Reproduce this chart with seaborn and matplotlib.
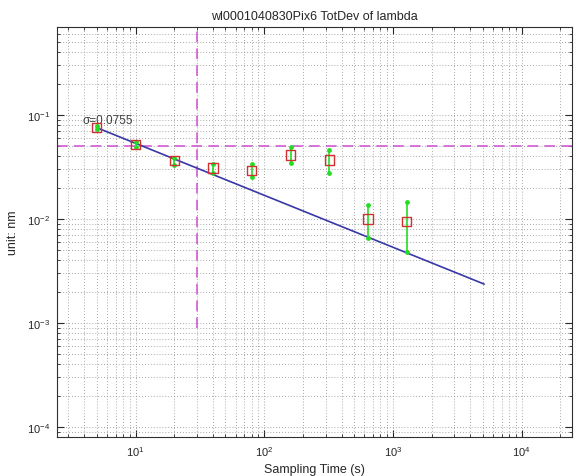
#Total deviation plot of lambda, log-log, matlab-ish look
import seaborn as sns
import matplotlib
matplotlib.use('Agg')
import matplotlib.pyplot as plt
import numpy as np
import pandas as pd

# sampling times and deviations
tau = [5, 10, 20, 40, 80, 160, 320, 640, 1280]
dev = [0.0755, 0.0518, 0.0364, 0.0309, 0.0291, 0.0413, 0.0369, 0.0100, 0.0094]
dev_hi = [0.0780, 0.0549, 0.0386, 0.0338, 0.0338, 0.0495, 0.0464, 0.0136, 0.0146]
dev_lo = [0.0730, 0.0492, 0.0331, 0.0277, 0.0254, 0.0345, 0.0277, 0.00652, 0.00479]

# white-noise fit line endpoints
fit_tau = [5, 5120]
fit_dev = [0.0755, 0.00236]

# reference markers
ref_tau = 30
ref_dev = 0.0505
ref_dev_bottom = 9e-4

sns.set_style('ticks')
plt.rcParams['font.family'] = ['Liberation Sans', 'DejaVu Sans']

df = pd.DataFrame({'tau': tau, 'dev': dev})
df_fit = pd.DataFrame({'tau': fit_tau, 'dev': fit_dev})

f = plt.figure(figsize=(5.81, 4.77), dpi=100)
ax = f.add_axes([0.098, 0.082, 0.886, 0.859])
ax.set_xscale('log')
ax.set_yscale('log')
ax.set_xlim(2.45, 2.45e4)
ax.set_ylim(8e-5, 0.70)

#matlab style dotted grid, major and minor
ax.grid(True, which='both', linestyle=(0, (1, 2.5)), color='#8a8a8a', linewidth=0.6)
ax.set_axisbelow(True)

# reference lines
ax.axhline(ref_dev, color='#d050d0', linestyle=(0, (7, 4)), linewidth=1.1)
ax.plot([ref_tau, ref_tau], [ref_dev_bottom, 0.70], color='#d050d0',
        linestyle=(0, (7, 4)), linewidth=1.1)

# fit line
sns.lineplot(data=df_fit, x='tau', y='dev', color='#3838a8', linewidth=1.2, ax=ax)

# error bars
ax.vlines(tau, dev_lo, dev_hi, color='#22dd22', linewidth=1.2)
ax.scatter(tau + tau, dev_lo + dev_hi, s=6, color='#22dd22', zorder=3)

# data squares
sns.scatterplot(data=df, x='tau', y='dev', marker='s', s=45, facecolor='none',
                edgecolor='#d03030', linewidth=1.0, ax=ax, zorder=4)

ax.text(3.9, 0.0775, '\u03c3=0.0755', fontsize=8.5, color='#404040', ha='left', va='bottom')

ax.tick_params(which='both', direction='in', top=True, right=True, labelsize=8)
ax.tick_params(which='major', length=5, pad=5)
ax.tick_params(which='minor', length=2.5)
for s in ax.spines.values():
    s.set_color('#303030')
    s.set_linewidth(0.8)

ax.set_title('wl0001040830Pix6 TotDev of lambda', fontsize=9, pad=6)
ax.set_xlabel('Sampling Time (s)', fontsize=9)
ax.set_ylabel('unit: nm', fontsize=9, labelpad=6)

f.savefig('out.png', dpi=100)
